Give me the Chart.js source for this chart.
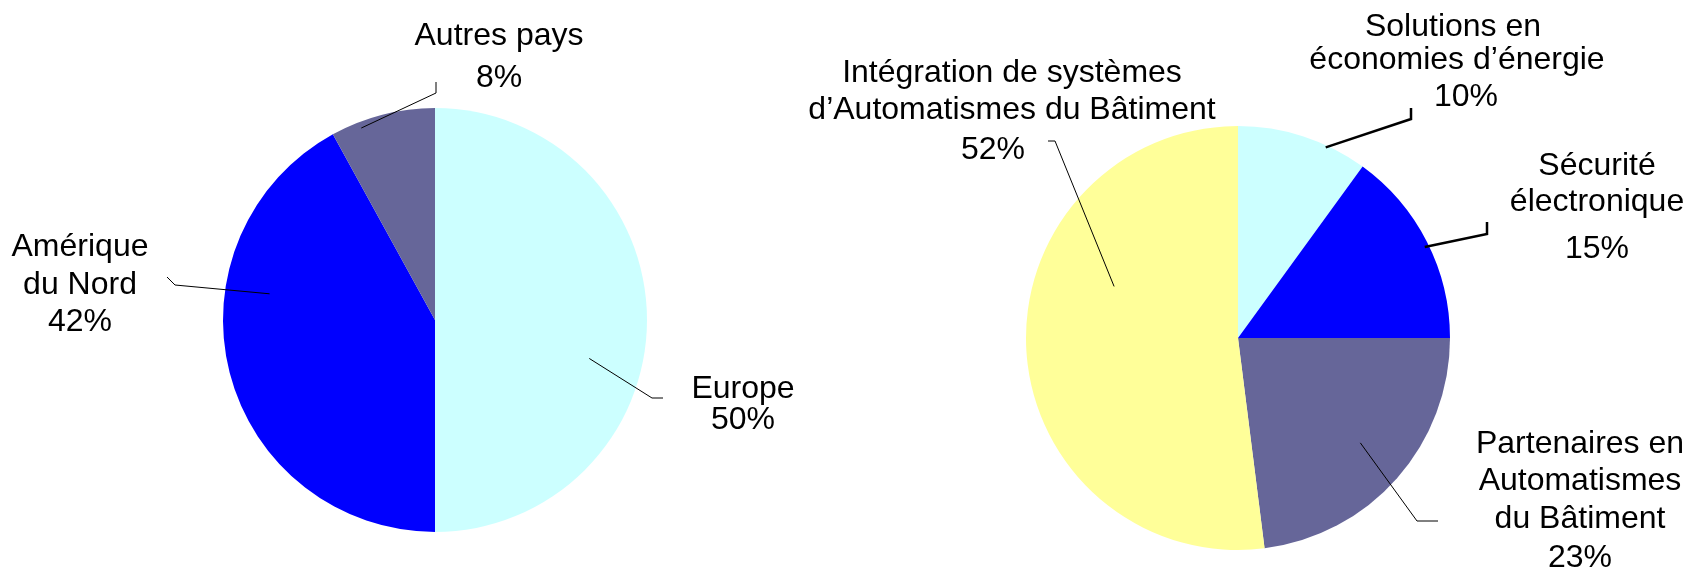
<!DOCTYPE html>
<html>
<head>
<meta charset="utf-8">
<script src="https://cdn.jsdelivr.net/npm/chart.js@4"></script>
<style>
  html, body { margin: 0; padding: 0; background: #fff; }
  #wrap { position: relative; width: 1688px; height: 570px; }
  #wrap canvas { position: absolute; left: 0; top: 0; }
</style>
</head>
<body>
<div id="wrap">
  <canvas id="pieRegions" width="1688" height="570"></canvas>
  <canvas id="pieActivities" width="1688" height="570"></canvas>
</div>
<script>
// data: sales split by region
const regionNames = ['Europe', 'Amérique\ndu Nord', 'Autres pays'];
const regionShares = [50, 42, 8];
const regionColors = ['#CCFFFF', '#0000FF', '#666699'];

// data: sales split by activity
const activityNames = [
  'Solutions en\néconomies d\u2019énergie',
  'Sécurité\nélectronique',
  'Partenaires en\nAutomatismes\ndu Bâtiment',
  'Intégration de systèmes\nd\u2019Automatismes du Bâtiment',
];
const activityShares = [10, 15, 23, 52];
const activityColors = ['#CCFFFF', '#0000FF', '#666699', '#FFFF99'];

// label placement (page px): line centres, baselines, leader line
// leader: start angle (deg clockwise from top) and radius fraction on the slice, then elbow points
const regionLabels = [
  { x: 743, y: [398, 429], angle: 104, rf: 0.75, pts: [[652, 398], [663, 398]], w: 1 },
  { x: 80, y: [256, 294, 331], angle: 279, rf: 0.79, pts: [[175, 285], [167, 277]], w: 1 },
  { x: 499, y: [45, 87], angle: 339, rf: 0.97, pts: [[436, 93], [436, 82]], w: 1 },
];
const activityLabels = [
  { x: [1453, 1457, 1466], y: [36, 69, 106], angle: 24.7, rf: 0.99, pts: [[1411, 119], [1411, 108]], w: 2.5 },
  { x: 1597, y: [175, 211, 258], angle: 64, rf: 0.98, pts: [[1487, 234], [1487, 222]], w: 2.5 },
  { x: 1580, y: [453, 490, 528, 567], angle: 130.6, rf: 0.76, pts: [[1417, 521], [1438, 521]], w: 1 },
  { x: [1012, 1012, 993], y: [82, 119, 159], angle: 292.6, rf: 0.633, pts: [[1055, 141], [1048, 141]], w: 1 },
];

const labelFont = '32px "Liberation Sans", Arial, sans-serif';

const leaderLabels = {
  id: 'leaderLabels',
  afterDatasetsDraw(chart, args, opts) {
    const ctx = chart.ctx;
    const meta = chart.getDatasetMeta(0);
    const names = chart.data.labels;
    const values = chart.data.datasets[0].data;
    ctx.save();
    opts.layout.forEach((lab, i) => {
      const arc = meta.data[i];
      const a = (lab.angle - 90) * Math.PI / 180;
      const r = arc.outerRadius * lab.rf;
      ctx.beginPath();
      ctx.strokeStyle = '#000';
      ctx.lineWidth = lab.w;
      ctx.moveTo(arc.x + r * Math.cos(a), arc.y + r * Math.sin(a));
      lab.pts.forEach(p => ctx.lineTo(p[0], p[1]));
      ctx.stroke();

      const lines = names[i].split('\n').concat([values[i] + '%']);
      ctx.fillStyle = '#000';
      ctx.font = labelFont;
      ctx.textAlign = 'center';
      ctx.textBaseline = 'alphabetic';
      lines.forEach((t, k) => {
        const x = Array.isArray(lab.x) ? lab.x[k] : lab.x;
        ctx.fillText(t, x, lab.y[k]);
      });
    });
    ctx.restore();
  },
};

function makePie(id, names, shares, colors, layout, padding) {
  return new Chart(document.getElementById(id), {
    type: 'pie',
    data: {
      labels: names,
      datasets: [{ data: shares, backgroundColor: colors, borderWidth: 0 }],
    },
    options: {
      responsive: false,
      animation: false,
      layout: { padding: padding },
      plugins: {
        legend: { display: false },
        tooltip: { enabled: false },
        leaderLabels: { layout: layout },
      },
    },
    plugins: [leaderLabels],
  });
}

makePie('pieRegions', regionNames, regionShares, regionColors, regionLabels,
  { left: 223, right: 1041, top: 108, bottom: 38 });
makePie('pieActivities', activityNames, activityShares, activityColors, activityLabels,
  { left: 1026, right: 238, top: 126, bottom: 20 });
</script>
</body>
</html>
